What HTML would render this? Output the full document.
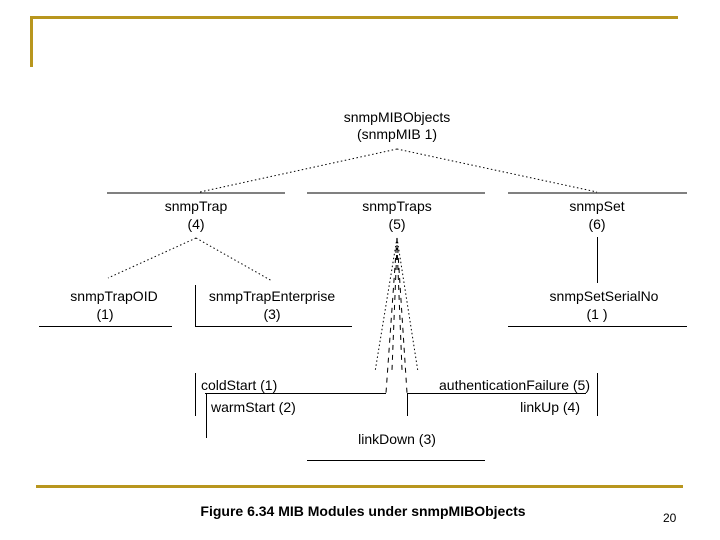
<!DOCTYPE html>
<html><head><meta charset="utf-8"><style>
html,body{margin:0;padding:0;background:#fff;}
svg{display:block;}
text{font-family:"Liberation Sans",Arial,sans-serif;font-size:14px;fill:#000;}
</style></head><body>
<svg width="720" height="540" viewBox="0 0 720 540" xmlns="http://www.w3.org/2000/svg">
<g fill="#b8961e">
<rect x="30" y="16" width="648" height="3"/>
<rect x="30" y="16" width="3" height="51"/>
<rect x="36" y="485" width="647" height="3"/>
</g>
<g stroke="#000" stroke-width="1" fill="none">
<line x1="107" y1="193" x2="285" y2="193"/>
<line x1="307" y1="193" x2="485" y2="193"/>
<line x1="508" y1="193" x2="687" y2="193"/>
<line x1="39" y1="326.5" x2="172" y2="326.5"/>
<line x1="195.5" y1="285" x2="195.5" y2="327"/>
<line x1="195" y1="326.5" x2="352" y2="326.5"/>
<line x1="597.5" y1="237" x2="597.5" y2="283"/>
<line x1="508" y1="326.5" x2="687" y2="326.5"/>
<line x1="195.5" y1="373" x2="195.5" y2="416"/>
<line x1="205" y1="393.5" x2="386" y2="393.5"/>
<line x1="206.5" y1="393" x2="206.5" y2="438"/>
<line x1="597.5" y1="373" x2="597.5" y2="416"/>
<line x1="407" y1="393.5" x2="586" y2="393.5"/>
<line x1="407.5" y1="393" x2="407.5" y2="416"/>
<line x1="307" y1="460.5" x2="485" y2="460.5"/>
</g>
<g stroke="#000" stroke-width="1" fill="none" stroke-dasharray="1.5,2.5">
<line x1="397" y1="149" x2="200" y2="192"/>
<line x1="397" y1="149" x2="597" y2="192"/>
<line x1="196" y1="238" x2="108" y2="278"/>
<line x1="196" y1="238" x2="272" y2="281"/>
<line x1="397" y1="238" x2="375" y2="372"/>
<line x1="397" y1="238" x2="418" y2="372"/>
</g>
<g stroke="#000" stroke-width="1" fill="none" stroke-dasharray="5,5">
<line x1="397" y1="238" x2="386" y2="393"/>
<line x1="397" y1="238" x2="407" y2="393"/>
<line x1="397" y1="245" x2="392" y2="370"/>
<line x1="397" y1="245" x2="402" y2="370"/>
</g>
<g text-anchor="middle">
<text x="397" y="122">snmpMIBObjects</text>
<text x="397" y="139">(snmpMIB 1)</text>
<text x="196" y="211">snmpTrap</text>
<text x="196" y="229">(4)</text>
<text x="397" y="211">snmpTraps</text>
<text x="397" y="229">(5)</text>
<text x="597" y="211">snmpSet</text>
<text x="597" y="229">(6)</text>
<text x="114" y="301">snmpTrapOID</text>
<text x="105" y="319">(1)</text>
<text x="272" y="301">snmpTrapEnterprise</text>
<text x="272" y="319">(3)</text>
<text x="604" y="301">snmpSetSerialNo</text>
<text x="597" y="319">(1 )</text>
<text x="397" y="444">linkDown (3)</text>
<text x="363" y="516" font-weight="bold">Figure 6.34 MIB Modules under snmpMIBObjects</text>
</g>
<text x="201" y="390">coldStart (1)</text>
<text x="211" y="412">warmStart (2)</text>
<text x="590" y="390" text-anchor="end">authenticationFailure (5)</text>
<text x="580" y="412" text-anchor="end">linkUp (4)</text>
<text x="663" y="522" style="font-size:12px">20</text>
</svg>
</body></html>
